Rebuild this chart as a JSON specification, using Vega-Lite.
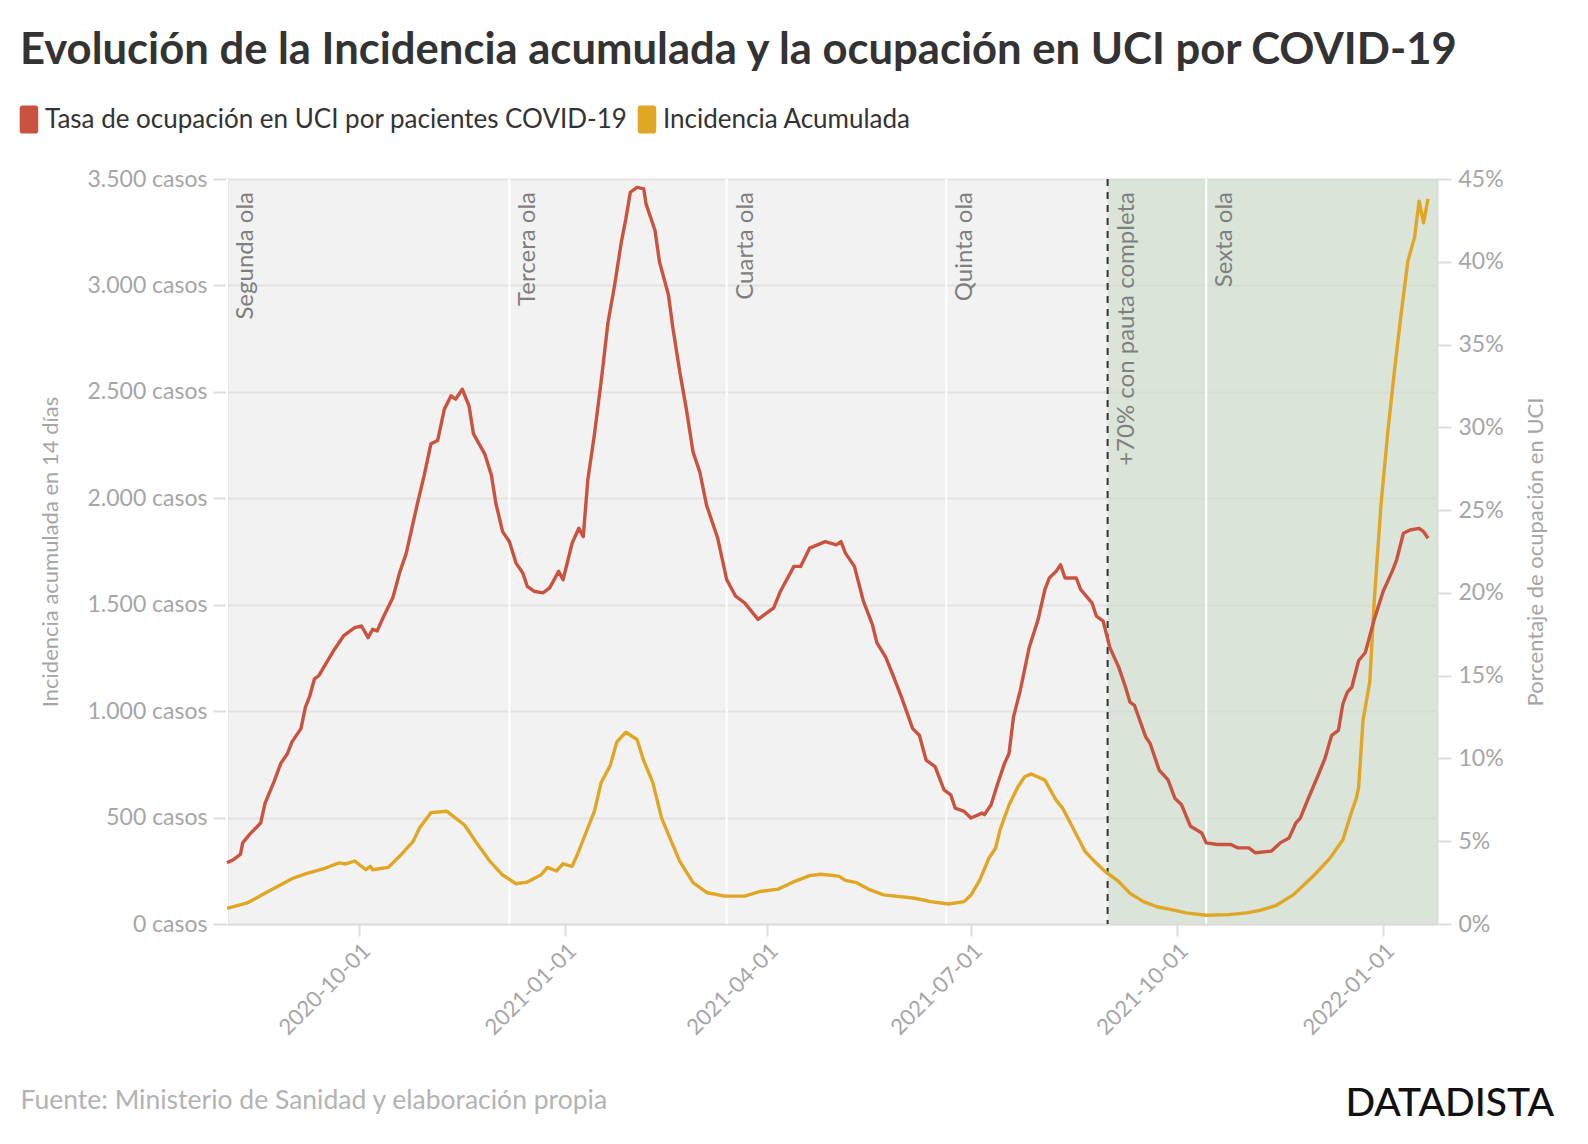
{
  "$schema": "https://vega.github.io/schema/vega-lite/v6.json",
  "width": 1210,
  "height": 745,
  "autosize": {"type": "none"},
  "padding": {"left": 227, "top": 179, "right": 151, "bottom": 220},
  "background": "white",
  "config": {
    "font": "Lato",
    "view": {"fill": "#f2f2f2", "stroke": null}
  },
  "title": {
    "text": "DATADISTA",
    "orient": "bottom",
    "anchor": "end",
    "frame": "group",
    "dx": 117,
    "offset": -29,
    "font": "Lato",
    "fontSize": 39,
    "fontWeight": 500,
    "color": "#111111"
  },
  "datasets": {
    "tramo": [{"inicio": "2021-08-31", "fin": "2022-01-25"}],
    "hitos": [
      {"fecha": "2020-08-03", "etiqueta": "Segunda ola", "tipo": "ola"},
      {"fecha": "2020-12-07", "etiqueta": "Tercera ola", "tipo": "ola"},
      {"fecha": "2021-03-14", "etiqueta": "Cuarta ola", "tipo": "ola"},
      {"fecha": "2021-06-20", "etiqueta": "Quinta ola", "tipo": "ola"},
      {"fecha": "2021-08-31", "etiqueta": "+70% con pauta completa", "tipo": "vacunacion"},
      {"fecha": "2021-10-14", "etiqueta": "Sexta ola", "tipo": "ola"}
    ],
    "uci": [
      {"fecha": "2020-08-03", "pct": 3.7}, {"fecha": "2020-08-06", "pct": 3.9}, {"fecha": "2020-08-09", "pct": 4.2},
      {"fecha": "2020-08-10", "pct": 4.9}, {"fecha": "2020-08-13", "pct": 5.4}, {"fecha": "2020-08-18", "pct": 6.1},
      {"fecha": "2020-08-20", "pct": 7.3}, {"fecha": "2020-08-24", "pct": 8.6}, {"fecha": "2020-08-27", "pct": 9.7},
      {"fecha": "2020-08-30", "pct": 10.3}, {"fecha": "2020-09-01", "pct": 11.0}, {"fecha": "2020-09-05", "pct": 11.8},
      {"fecha": "2020-09-07", "pct": 13.1}, {"fecha": "2020-09-09", "pct": 13.8}, {"fecha": "2020-09-11", "pct": 14.8},
      {"fecha": "2020-09-13", "pct": 15.0}, {"fecha": "2020-09-16", "pct": 15.7}, {"fecha": "2020-09-20", "pct": 16.6},
      {"fecha": "2020-09-24", "pct": 17.4}, {"fecha": "2020-09-27", "pct": 17.7}, {"fecha": "2020-09-29", "pct": 17.9},
      {"fecha": "2020-10-02", "pct": 18.0}, {"fecha": "2020-10-05", "pct": 17.3}, {"fecha": "2020-10-07", "pct": 17.8},
      {"fecha": "2020-10-09", "pct": 17.7}, {"fecha": "2020-10-12", "pct": 18.6}, {"fecha": "2020-10-16", "pct": 19.7},
      {"fecha": "2020-10-19", "pct": 21.2}, {"fecha": "2020-10-22", "pct": 22.4}, {"fecha": "2020-10-27", "pct": 25.4},
      {"fecha": "2020-10-30", "pct": 27.1}, {"fecha": "2020-11-02", "pct": 29.0}, {"fecha": "2020-11-05", "pct": 29.2},
      {"fecha": "2020-11-08", "pct": 31.1}, {"fecha": "2020-11-11", "pct": 31.9}, {"fecha": "2020-11-13", "pct": 31.7},
      {"fecha": "2020-11-16", "pct": 32.3}, {"fecha": "2020-11-19", "pct": 31.3}, {"fecha": "2020-11-21", "pct": 29.6},
      {"fecha": "2020-11-26", "pct": 28.4}, {"fecha": "2020-11-29", "pct": 27.1}, {"fecha": "2020-12-01", "pct": 25.4},
      {"fecha": "2020-12-04", "pct": 23.7}, {"fecha": "2020-12-07", "pct": 23.1}, {"fecha": "2020-12-10", "pct": 21.8},
      {"fecha": "2020-12-13", "pct": 21.2}, {"fecha": "2020-12-15", "pct": 20.4}, {"fecha": "2020-12-18", "pct": 20.1},
      {"fecha": "2020-12-22", "pct": 20.0}, {"fecha": "2020-12-25", "pct": 20.3}, {"fecha": "2020-12-29", "pct": 21.3},
      {"fecha": "2020-12-31", "pct": 20.8}, {"fecha": "2021-01-04", "pct": 23.0}, {"fecha": "2021-01-07", "pct": 23.9},
      {"fecha": "2021-01-09", "pct": 23.4}, {"fecha": "2021-01-11", "pct": 26.8}, {"fecha": "2021-01-14", "pct": 29.6},
      {"fecha": "2021-01-17", "pct": 32.8}, {"fecha": "2021-01-20", "pct": 36.3}, {"fecha": "2021-01-23", "pct": 38.6},
      {"fecha": "2021-01-26", "pct": 41.2}, {"fecha": "2021-01-28", "pct": 42.6}, {"fecha": "2021-01-30", "pct": 44.2},
      {"fecha": "2021-02-02", "pct": 44.5}, {"fecha": "2021-02-05", "pct": 44.4}, {"fecha": "2021-02-06", "pct": 43.5},
      {"fecha": "2021-02-10", "pct": 41.9}, {"fecha": "2021-02-12", "pct": 40.0}, {"fecha": "2021-02-16", "pct": 38.0},
      {"fecha": "2021-02-18", "pct": 36.0}, {"fecha": "2021-02-21", "pct": 33.4}, {"fecha": "2021-02-24", "pct": 31.1},
      {"fecha": "2021-02-27", "pct": 28.5}, {"fecha": "2021-03-02", "pct": 27.3}, {"fecha": "2021-03-05", "pct": 25.3},
      {"fecha": "2021-03-10", "pct": 23.3}, {"fecha": "2021-03-14", "pct": 20.8}, {"fecha": "2021-03-18", "pct": 19.8},
      {"fecha": "2021-03-22", "pct": 19.4}, {"fecha": "2021-03-28", "pct": 18.4}, {"fecha": "2021-03-31", "pct": 18.7},
      {"fecha": "2021-04-04", "pct": 19.1}, {"fecha": "2021-04-07", "pct": 20.1}, {"fecha": "2021-04-13", "pct": 21.6},
      {"fecha": "2021-04-16", "pct": 21.6}, {"fecha": "2021-04-20", "pct": 22.7}, {"fecha": "2021-04-27", "pct": 23.1},
      {"fecha": "2021-05-02", "pct": 22.9}, {"fecha": "2021-05-04", "pct": 23.1}, {"fecha": "2021-05-06", "pct": 22.4},
      {"fecha": "2021-05-10", "pct": 21.6}, {"fecha": "2021-05-14", "pct": 19.5}, {"fecha": "2021-05-18", "pct": 18.1},
      {"fecha": "2021-05-20", "pct": 17.0}, {"fecha": "2021-05-24", "pct": 16.1}, {"fecha": "2021-05-27", "pct": 15.1},
      {"fecha": "2021-05-31", "pct": 13.7}, {"fecha": "2021-06-05", "pct": 11.8}, {"fecha": "2021-06-08", "pct": 11.4},
      {"fecha": "2021-06-11", "pct": 9.9}, {"fecha": "2021-06-15", "pct": 9.5}, {"fecha": "2021-06-19", "pct": 8.1},
      {"fecha": "2021-06-22", "pct": 7.8}, {"fecha": "2021-06-24", "pct": 7.0}, {"fecha": "2021-06-28", "pct": 6.8},
      {"fecha": "2021-07-01", "pct": 6.4}, {"fecha": "2021-07-06", "pct": 6.7}, {"fecha": "2021-07-07", "pct": 6.6},
      {"fecha": "2021-07-10", "pct": 7.2}, {"fecha": "2021-07-13", "pct": 8.5}, {"fecha": "2021-07-16", "pct": 9.7},
      {"fecha": "2021-07-18", "pct": 10.3}, {"fecha": "2021-07-20", "pct": 12.5}, {"fecha": "2021-07-23", "pct": 14.1},
      {"fecha": "2021-07-27", "pct": 16.7}, {"fecha": "2021-07-31", "pct": 18.4}, {"fecha": "2021-08-03", "pct": 20.2},
      {"fecha": "2021-08-05", "pct": 20.9}, {"fecha": "2021-08-08", "pct": 21.3}, {"fecha": "2021-08-10", "pct": 21.7},
      {"fecha": "2021-08-12", "pct": 20.9}, {"fecha": "2021-08-17", "pct": 20.9}, {"fecha": "2021-08-19", "pct": 20.2},
      {"fecha": "2021-08-24", "pct": 19.4}, {"fecha": "2021-08-26", "pct": 18.6}, {"fecha": "2021-08-29", "pct": 18.3},
      {"fecha": "2021-09-01", "pct": 16.7}, {"fecha": "2021-09-05", "pct": 15.5}, {"fecha": "2021-09-08", "pct": 14.3},
      {"fecha": "2021-09-10", "pct": 13.4}, {"fecha": "2021-09-12", "pct": 13.2}, {"fecha": "2021-09-17", "pct": 11.3},
      {"fecha": "2021-09-19", "pct": 10.9}, {"fecha": "2021-09-23", "pct": 9.3}, {"fecha": "2021-09-27", "pct": 8.7},
      {"fecha": "2021-09-30", "pct": 7.6}, {"fecha": "2021-10-03", "pct": 7.2}, {"fecha": "2021-10-07", "pct": 5.9},
      {"fecha": "2021-10-12", "pct": 5.5}, {"fecha": "2021-10-14", "pct": 4.9}, {"fecha": "2021-10-19", "pct": 4.8},
      {"fecha": "2021-10-25", "pct": 4.8}, {"fecha": "2021-10-28", "pct": 4.6}, {"fecha": "2021-11-02", "pct": 4.6},
      {"fecha": "2021-11-05", "pct": 4.3}, {"fecha": "2021-11-12", "pct": 4.4}, {"fecha": "2021-11-16", "pct": 4.9},
      {"fecha": "2021-11-20", "pct": 5.2}, {"fecha": "2021-11-23", "pct": 6.1}, {"fecha": "2021-11-25", "pct": 6.4},
      {"fecha": "2021-11-28", "pct": 7.4}, {"fecha": "2021-12-03", "pct": 9.0}, {"fecha": "2021-12-06", "pct": 10.0},
      {"fecha": "2021-12-09", "pct": 11.4}, {"fecha": "2021-12-12", "pct": 11.7}, {"fecha": "2021-12-14", "pct": 13.3},
      {"fecha": "2021-12-16", "pct": 14.0}, {"fecha": "2021-12-18", "pct": 14.3}, {"fecha": "2021-12-21", "pct": 15.9},
      {"fecha": "2021-12-24", "pct": 16.4}, {"fecha": "2021-12-28", "pct": 18.4}, {"fecha": "2022-01-01", "pct": 20.1},
      {"fecha": "2022-01-05", "pct": 21.3}, {"fecha": "2022-01-07", "pct": 22.0}, {"fecha": "2022-01-10", "pct": 23.6},
      {"fecha": "2022-01-13", "pct": 23.8}, {"fecha": "2022-01-17", "pct": 23.9}, {"fecha": "2022-01-19", "pct": 23.7},
      {"fecha": "2022-01-21", "pct": 23.3}
    ],
    "ia": [
      {"fecha": "2020-08-03", "casos": 73}, {"fecha": "2020-08-12", "casos": 99}, {"fecha": "2020-08-22", "casos": 156},
      {"fecha": "2020-09-01", "casos": 213}, {"fecha": "2020-09-07", "casos": 235}, {"fecha": "2020-09-16", "casos": 263},
      {"fecha": "2020-09-22", "casos": 287}, {"fecha": "2020-09-25", "casos": 282}, {"fecha": "2020-09-29", "casos": 296},
      {"fecha": "2020-10-04", "casos": 255}, {"fecha": "2020-10-06", "casos": 271}, {"fecha": "2020-10-07", "casos": 255},
      {"fecha": "2020-10-14", "casos": 266}, {"fecha": "2020-10-20", "casos": 329}, {"fecha": "2020-10-25", "casos": 387},
      {"fecha": "2020-10-28", "casos": 452}, {"fecha": "2020-11-02", "casos": 523}, {"fecha": "2020-11-09", "casos": 530},
      {"fecha": "2020-11-17", "casos": 465}, {"fecha": "2020-11-22", "casos": 387}, {"fecha": "2020-11-28", "casos": 299},
      {"fecha": "2020-12-04", "casos": 230}, {"fecha": "2020-12-10", "casos": 189}, {"fecha": "2020-12-15", "casos": 197},
      {"fecha": "2020-12-21", "casos": 230}, {"fecha": "2020-12-24", "casos": 266}, {"fecha": "2020-12-28", "casos": 249},
      {"fecha": "2020-12-31", "casos": 283}, {"fecha": "2021-01-04", "casos": 271}, {"fecha": "2021-01-06", "casos": 317},
      {"fecha": "2021-01-11", "casos": 451}, {"fecha": "2021-01-14", "casos": 530}, {"fecha": "2021-01-17", "casos": 665},
      {"fecha": "2021-01-21", "casos": 744}, {"fecha": "2021-01-24", "casos": 856}, {"fecha": "2021-01-28", "casos": 901},
      {"fecha": "2021-02-02", "casos": 867}, {"fecha": "2021-02-05", "casos": 766}, {"fecha": "2021-02-09", "casos": 665},
      {"fecha": "2021-02-13", "casos": 496}, {"fecha": "2021-02-17", "casos": 395}, {"fecha": "2021-02-21", "casos": 295},
      {"fecha": "2021-02-27", "casos": 194}, {"fecha": "2021-03-05", "casos": 148}, {"fecha": "2021-03-13", "casos": 131},
      {"fecha": "2021-03-22", "casos": 131}, {"fecha": "2021-03-29", "casos": 153}, {"fecha": "2021-04-06", "casos": 164},
      {"fecha": "2021-04-12", "casos": 194}, {"fecha": "2021-04-20", "casos": 227}, {"fecha": "2021-04-25", "casos": 234},
      {"fecha": "2021-05-03", "casos": 225}, {"fecha": "2021-05-06", "casos": 205}, {"fecha": "2021-05-11", "casos": 194},
      {"fecha": "2021-05-17", "casos": 160}, {"fecha": "2021-05-23", "casos": 137}, {"fecha": "2021-06-06", "casos": 121},
      {"fecha": "2021-06-13", "casos": 105}, {"fecha": "2021-06-21", "casos": 94}, {"fecha": "2021-06-28", "casos": 105},
      {"fecha": "2021-07-01", "casos": 136}, {"fecha": "2021-07-05", "casos": 207}, {"fecha": "2021-07-09", "casos": 309},
      {"fecha": "2021-07-12", "casos": 356}, {"fecha": "2021-07-14", "casos": 442}, {"fecha": "2021-07-18", "casos": 559},
      {"fecha": "2021-07-22", "casos": 645}, {"fecha": "2021-07-25", "casos": 692}, {"fecha": "2021-07-28", "casos": 705},
      {"fecha": "2021-08-03", "casos": 676}, {"fecha": "2021-08-08", "casos": 582}, {"fecha": "2021-08-11", "casos": 543},
      {"fecha": "2021-08-16", "casos": 442}, {"fecha": "2021-08-21", "casos": 340}, {"fecha": "2021-08-26", "casos": 285},
      {"fecha": "2021-08-30", "casos": 246}, {"fecha": "2021-09-05", "casos": 199}, {"fecha": "2021-09-10", "casos": 144},
      {"fecha": "2021-09-16", "casos": 105}, {"fecha": "2021-09-22", "casos": 81}, {"fecha": "2021-09-29", "casos": 66},
      {"fecha": "2021-10-05", "casos": 52}, {"fecha": "2021-10-14", "casos": 41}, {"fecha": "2021-10-24", "casos": 44},
      {"fecha": "2021-11-01", "casos": 52}, {"fecha": "2021-11-07", "casos": 64}, {"fecha": "2021-11-14", "casos": 86},
      {"fecha": "2021-11-22", "casos": 138}, {"fecha": "2021-12-01", "casos": 228}, {"fecha": "2021-12-08", "casos": 306},
      {"fecha": "2021-12-14", "casos": 396}, {"fecha": "2021-12-18", "casos": 531}, {"fecha": "2021-12-20", "casos": 590},
      {"fecha": "2021-12-21", "casos": 640}, {"fecha": "2021-12-23", "casos": 958}, {"fecha": "2021-12-26", "casos": 1138},
      {"fecha": "2021-12-28", "casos": 1519}, {"fecha": "2021-12-31", "casos": 1969}, {"fecha": "2022-01-03", "casos": 2306},
      {"fecha": "2022-01-06", "casos": 2598}, {"fecha": "2022-01-09", "casos": 2867}, {"fecha": "2022-01-12", "casos": 3114},
      {"fecha": "2022-01-15", "casos": 3227}, {"fecha": "2022-01-17", "casos": 3396}, {"fecha": "2022-01-19", "casos": 3294},
      {"fecha": "2022-01-21", "casos": 3407}
    ]
  },
  "layer": [
    {
      "data": {"name": "tramo"},
      "mark": {"type": "rect", "fill": "#c6d9c4", "opacity": 0.55},
      "encoding": {
        "x": {
          "field": "inicio",
          "type": "temporal",
          "scale": {
            "type": "utc",
            "domain": [
              {"year": 2020, "month": 8, "date": 3, "utc": true},
              {"year": 2022, "month": 1, "date": 25, "utc": true}
            ]
          },
          "axis": {
            "values": [
              {"year": 2020, "month": 10, "date": 1, "utc": true},
              {"year": 2021, "month": 1, "date": 1, "utc": true},
              {"year": 2021, "month": 4, "date": 1, "utc": true},
              {"year": 2021, "month": 7, "date": 1, "utc": true},
              {"year": 2021, "month": 10, "date": 1, "utc": true},
              {"year": 2022, "month": 1, "date": 1, "utc": true}
            ],
            "labelExpr": "utcFormat(datum.value, '%Y-%m-%d')",
            "labelAngle": -45,
            "labelFontSize": 22,
            "labelColor": "#a6a6a6",
            "labelPadding": 4,
            "tickSize": 12,
            "tickWidth": 2,
            "tickColor": "#dddddd",
            "domainColor": "#dddddd",
            "domainWidth": 2,
            "grid": false,
            "title": "Fuente: Ministerio de Sanidad y elaboración propia",
            "titleX": -207,
            "titleY": 184,
            "titleAlign": "left",
            "titleAnchor": "start",
            "titleBaseline": "alphabetic",
            "titleFontSize": 26.5,
            "titleFontWeight": "normal",
            "titleColor": "#b3b3b3"
          }
        },
        "x2": {"field": "fin"}
      }
    },
    {
      "data": {"name": "hitos"},
      "transform": [{"filter": "datum.tipo === 'ola'"}],
      "mark": {"type": "rule", "color": "#ffffff", "strokeWidth": 2},
      "encoding": {"x": {"field": "fecha", "type": "temporal"}}
    },
    {
      "data": {"name": "hitos"},
      "transform": [{"filter": "datum.tipo === 'vacunacion'"}],
      "mark": {"type": "rule", "color": "#333333", "strokeWidth": 2, "strokeDash": [7, 6]},
      "encoding": {"x": {"field": "fecha", "type": "temporal"}}
    },
    {
      "layer": [
        {
          "data": {"name": "ia"},
          "mark": {"type": "line", "strokeWidth": 3.4, "strokeJoin": "round"},
          "encoding": {
            "x": {"field": "fecha", "type": "temporal"},
            "y": {
              "field": "casos",
              "type": "quantitative",
              "scale": {"domain": [0, 3500]},
              "axis": {
                "orient": "left",
                "values": [0, 500, 1000, 1500, 2000, 2500, 3000, 3500],
                "labelExpr": "replace(format(datum.value, ','), ',', '.') + ' casos'",
                "labelFontSize": 23,
                "labelColor": "#a6a6a6",
                "labelPadding": 6,
                "tickSize": 14,
                "tickWidth": 2,
                "tickColor": "#dddddd",
                "domainColor": "#dddddd",
                "domainWidth": 2,
                "grid": true,
                "gridColor": "#e2e2e2",
                "gridWidth": 2,
                "title": "Incidencia acumulada en 14 días",
                "titleFontSize": 22,
                "titleFontWeight": "normal",
                "titleColor": "#a6a6a6",
                "titlePadding": 24
              }
            },
            "color": {"datum": "Incidencia Acumulada", "type": "nominal"}
          }
        },
        {
          "data": {"name": "hitos"},
          "mark": {
            "type": "text",
            "angle": 270,
            "align": "right",
            "baseline": "top",
            "dx": -13,
            "dy": 7,
            "fontSize": 24,
            "color": "#7f7f7f"
          },
          "encoding": {
            "x": {"field": "fecha", "type": "temporal"},
            "y": {"datum": 3500, "type": "quantitative"},
            "text": {"field": "etiqueta"}
          }
        }
      ]
    },
    {
      "data": {"name": "uci"},
      "mark": {"type": "line", "strokeWidth": 3.4, "strokeJoin": "round"},
      "encoding": {
        "x": {"field": "fecha", "type": "temporal"},
        "y": {
          "field": "pct",
          "type": "quantitative",
          "scale": {"domain": [0, 45]},
          "axis": {
            "orient": "right",
            "values": [0, 5, 10, 15, 20, 25, 30, 35, 40, 45],
            "labelExpr": "datum.value + '%'",
            "labelFontSize": 23,
            "labelColor": "#a6a6a6",
            "labelPadding": 7,
            "tickSize": 14,
            "tickWidth": 2,
            "tickColor": "#dddddd",
            "domainColor": "#dddddd",
            "domainWidth": 2,
            "grid": false,
            "title": "Porcentaje de ocupación en UCI",
            "titleAngle": 270,
            "titleFontSize": 22,
            "titleFontWeight": "normal",
            "titleColor": "#a6a6a6",
            "titlePadding": 44
          }
        },
        "color": {
          "datum": "Tasa de ocupación en UCI por pacientes COVID-19",
          "type": "nominal",
          "scale": {
            "domain": ["Tasa de ocupación en UCI por pacientes COVID-19", "Incidencia Acumulada"],
            "range": ["#c9533f", "#e1a623"]
          },
          "legend": {
            "orient": "none",
            "legendX": -207,
            "legendY": -149,
            "direction": "horizontal",
            "title": "Evolución de la Incidencia acumulada y la ocupación en UCI por COVID-19",
            "titleFont": "Lato",
            "titleFontSize": 43.6,
            "titleFontWeight": "bold",
            "titleColor": "#333333",
            "titleLimit": 3000,
            "titlePadding": 32,
            "labelFont": "Lato",
            "labelFontSize": 26,
            "labelColor": "#333333",
            "labelLimit": 1500,
            "labelOffset": -3,
            "columnPadding": 9,
            "symbolType": "M-0.82,-1L0.1,-1Q0.3,-1 0.3,-0.8L0.3,0.8Q0.3,1 0.1,1L-0.82,1Q-1.02,1 -1.02,0.8L-1.02,-0.8Q-1.02,-1 -0.82,-1Z",
            "symbolSize": 784,
            "symbolStrokeWidth": 0,
            "encode": {
              "symbols": {
                "update": {
                  "fill": {"scale": "color", "field": "value"},
                  "strokeWidth": {"value": 0}
                }
              }
            }
          }
        }
      }
    }
  ],
  "resolve": {"scale": {"y": "independent"}}
}
